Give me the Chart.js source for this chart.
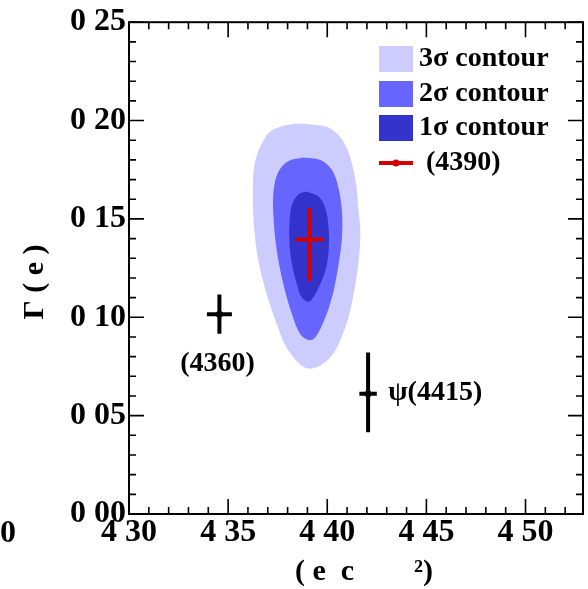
<!DOCTYPE html>
<html>
<head>
<meta charset="utf-8">
<script src="https://cdn.jsdelivr.net/npm/chart.js@4"></script>
<style>
body { margin: 0; background: #fff; }
#wrap { width: 588px; height: 589px; }
</style>
</head>
<body>
<div id="wrap"><canvas id="contourChart" width="588" height="589"></canvas></div>
<script>
// axes
const xTicks = [4.30, 4.35, 4.40, 4.45, 4.50];
const xTickLabels = ['4 30', '4 35', '4 40', '4 45', '4 50'];
const yTicks = [0, 0.05, 0.10, 0.15, 0.20, 0.25];
const yTickLabels = ['0 00', '0 05', '0 10', '0 15', '0 20', '0 25'];
const xMin = 4.30, xMax = 4.529;
const yMin = 0, yMax = 0.25;

// contour outlines: mass (GeV) and width (GeV)
const contour3Mass = [4.3847, 4.3914, 4.4015, 4.4091, 4.4141, 4.4158, 4.4167, 4.4158, 4.4133, 4.4091, 4.4015, 4.3904, 4.3805, 4.3746, 4.3695, 4.3653, 4.3631, 4.3625, 4.3636, 4.3695, 4.3763];
const contour3Width = [0.1985, 0.1980, 0.1960, 0.1876, 0.1707, 0.1538, 0.1437, 0.1285, 0.1117, 0.0948, 0.0796, 0.0739, 0.0830, 0.0965, 0.1117, 0.1285, 0.1454, 0.1623, 0.1791, 0.1927, 0.1969];
const contour2Mass = [4.3880, 4.3965, 4.4024, 4.4057, 4.4074, 4.4074, 4.4057, 4.4032, 4.3990, 4.3939, 4.3906, 4.3864, 4.3822, 4.3779, 4.3746, 4.3729, 4.3729, 4.3754, 4.3805];
const contour2Width = [0.1812, 0.1800, 0.1749, 0.1656, 0.1538, 0.1403, 0.1269, 0.1134, 0.0999, 0.0897, 0.0884, 0.0914, 0.1016, 0.1167, 0.1336, 0.1505, 0.1640, 0.1741, 0.1795];
const contour1Mass = [4.3897, 4.3956, 4.3990, 4.4007, 4.4007, 4.3990, 4.3956, 4.3923, 4.3906, 4.3872, 4.3847, 4.3822, 4.3810, 4.3810, 4.3822, 4.3855];
const contour1Width = [0.1640, 0.1614, 0.1555, 0.1454, 0.1336, 0.1235, 0.1150, 0.1092, 0.1079, 0.1100, 0.1167, 0.1269, 0.1370, 0.1488, 0.1572, 0.1626];

// resonances with errors
const resNames = ['(4390)', '(4360)', 'ψ(4415)'];
const resMass = [4.3911, 4.3456, 4.4206];
const resWidth = [0.1395, 0.1016, 0.0611];
const resMassErr = [0.0070, 0.0063, 0.0044];
const resWidthErrUp = [0.0160, 0.0100, 0.0210];
const resWidthErrDown = [0.0210, 0.0100, 0.0195];
const resColors = ['#d40000', '#000000', '#000000'];

// text labels next to the points (data coords)
const labelMass = [null, 4.3447, 4.4308];
const labelWidth = [null, 0.0764, 0.0617];

const legendLabels = ['3σ contour', '2σ contour', '1σ contour', ' (4390)'];
const contourColors = ['#ccccff', '#6666ff', '#3333cc'];

const serif = "'Liberation Serif', 'Times New Roman', serif";

function outline(xs, ys) {
    const pts = xs.map((x, i) => ({x: x, y: ys[i]}));
    pts.push(pts[0]);
    return pts;
}

function errorBar(i) {
    const m = resMass[i], w = resWidth[i];
    return [
        {x: m - resMassErr[i], y: w},
        {x: m + resMassErr[i], y: w},
        {x: m, y: null},
        {x: m, y: w - resWidthErrDown[i]},
        {x: m, y: w + resWidthErrUp[i]}
    ];
}

function contourSet(label, pts, color, order) {
    return {
        label: label,
        data: pts,
        showLine: true,
        fill: 'shape',
        backgroundColor: color,
        borderColor: color,
        borderWidth: 0,
        pointRadius: 0,
        tension: 0.35,
        order: order
    };
}

function barSet(i) {
    return {
        label: resNames[i],
        data: errorBar(i),
        showLine: true,
        borderColor: resColors[i],
        borderWidth: 4,
        pointRadius: 0,
        tension: 0,
        order: 0
    };
}

const datasets = [
    contourSet(legendLabels[0], outline(contour3Mass, contour3Width), contourColors[0], 3),
    contourSet(legendLabels[1], outline(contour2Mass, contour2Width), contourColors[1], 2),
    contourSet(legendLabels[2], outline(contour1Mass, contour1Width), contourColors[2], 1),
    barSet(0), barSet(1), barSet(2),
    {
        label: 'centres',
        data: resMass.map((m, i) => ({x: m, y: resWidth[i]})),
        pointRadius: [2, 3.5, 3.5],
        pointStyle: 'circle',
        backgroundColor: resColors,
        borderWidth: 0,
        order: 0
    }
];

const frame = {
    id: 'frame',
    afterDraw(chart) {
        const ctx = chart.ctx;
        const a = chart.chartArea;
        const xs = chart.scales.x, ys = chart.scales.y;
        ctx.save();
        ctx.strokeStyle = '#000';
        ctx.lineWidth = 2;
        ctx.strokeRect(a.left, a.top, a.right - a.left, a.bottom - a.top);

        ctx.lineWidth = 1.6;
        ctx.beginPath();
        for (let v = 430; v <= 452; v++) {
            const px = xs.getPixelForValue(v / 100);
            const len = v % 5 === 0 ? 15 : 7;
            ctx.moveTo(px, a.bottom); ctx.lineTo(px, a.bottom - len);
            ctx.moveTo(px, a.top); ctx.lineTo(px, a.top + len);
        }
        for (let v = 0; v <= 25; v++) {
            const py = ys.getPixelForValue(v / 100);
            const len = v % 5 === 0 ? 15 : 7;
            ctx.moveTo(a.left, py); ctx.lineTo(a.left + len, py);
            ctx.moveTo(a.right, py); ctx.lineTo(a.right - len, py);
        }
        ctx.stroke();

        // point labels
        ctx.fillStyle = '#000';
        ctx.font = 'bold 28px ' + serif;
        ctx.textBaseline = 'middle';
        ctx.textAlign = 'center';
        ctx.fillText(resNames[1], xs.getPixelForValue(labelMass[1]), ys.getPixelForValue(labelWidth[1]));
        ctx.textAlign = 'left';
        ctx.fillText(resNames[2], xs.getPixelForValue(labelMass[2]), ys.getPixelForValue(labelWidth[2]));

        // legend
        const lx = 379, lw = 34;
        const rows = [59, 94, 128, 163];
        for (let i = 0; i < 3; i++) {
            ctx.fillStyle = contourColors[i];
            ctx.fillRect(lx, rows[i] - 13, lw, 26);
        }
        ctx.strokeStyle = resColors[0];
        ctx.lineWidth = 4;
        ctx.beginPath();
        ctx.moveTo(lx, rows[3]); ctx.lineTo(lx + lw, rows[3]);
        ctx.stroke();
        ctx.fillStyle = resColors[0];
        ctx.beginPath();
        ctx.arc(lx + lw / 2, rows[3], 3.5, 0, Math.PI * 2);
        ctx.fill();
        ctx.fillStyle = '#000';
        ctx.textAlign = 'left';
        legendLabels.forEach((t, i) => ctx.fillText(t, 419, rows[i]));

        // axis titles
        ctx.font = 'bold 30px ' + serif;
        ctx.textAlign = 'center';
        ctx.fillText('( e  c        \u00b2)', 364, 572);
        ctx.font = 'bold 32px ' + serif;
        ctx.textAlign = 'left';
        ctx.fillText('0', 0, 534);
        ctx.translate(35, 282);
        ctx.rotate(-Math.PI / 2);
        ctx.font = 'bold 30px ' + serif;
        ctx.textAlign = 'center';
        ctx.fillText('Γ ( e )', 0, 0);
        ctx.restore();
    }
};

const tickFont = {family: serif, size: 32, weight: 'bold'};

new Chart(document.getElementById('contourChart'), {
    type: 'scatter',
    data: {datasets: datasets},
    options: {
        responsive: false,
        animation: false,
        layout: {padding: {left: 0, top: 20, right: 5, bottom: 0}},
        plugins: {legend: {display: false}, tooltip: {enabled: false}},
        scales: {
            x: {
                type: 'linear',
                min: xMin, max: xMax,
                grid: {display: false, drawTicks: false},
                border: {display: false},
                afterBuildTicks: s => { s.ticks = xTicks.map(v => ({value: v})); },
                afterFit: s => { s.height = 75; },
                ticks: {
                    autoSkip: false, maxRotation: 0, padding: 0,
                    color: '#000', font: tickFont,
                    callback: (v, i) => xTickLabels[i]
                }
            },
            y: {
                type: 'linear',
                min: yMin, max: yMax,
                grid: {display: false, drawTicks: false},
                border: {display: false},
                afterBuildTicks: s => { s.ticks = yTicks.map(v => ({value: v})); },
                afterFit: s => { s.width = 129; },
                ticks: {
                    autoSkip: false, padding: 3,
                    color: '#000', font: tickFont,
                    callback: (v, i) => yTickLabels[i]
                }
            }
        }
    },
    plugins: [frame]
});
</script>
</body>
</html>
